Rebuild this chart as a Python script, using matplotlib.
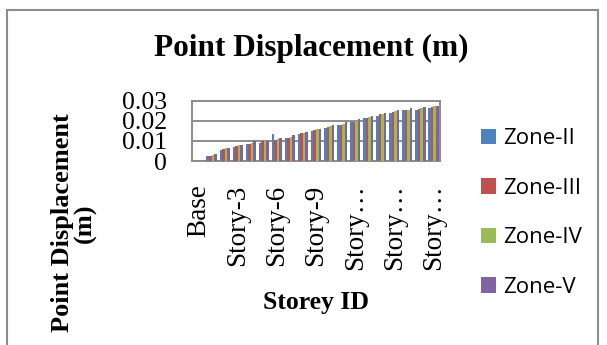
import matplotlib
matplotlib.use("Agg")
import matplotlib.pyplot as plt
import numpy as np
from matplotlib.lines import Line2D

# Storey-wise point displacement (m) for each seismic zone
storeys = ["Base"] + [f"Story-{i}" for i in range(1, 19)]
zone_ii = [0.0, 0.0025, 0.0057, 0.0070, 0.0082, 0.0090, 0.0135, 0.0112, 0.0135,
           0.0148, 0.0165, 0.0178, 0.0195, 0.0212, 0.0225, 0.0238, 0.0252, 0.0252, 0.0263]
zone_iii = [0.0, 0.0025, 0.0060, 0.0073, 0.0085, 0.0097, 0.0102, 0.0115, 0.0137,
            0.0153, 0.0167, 0.0178, 0.0195, 0.0215, 0.0232, 0.0245, 0.0252, 0.0258, 0.0268]
zone_iv = [0.0, 0.0032, 0.0063, 0.0077, 0.0090, 0.0100, 0.0110, 0.0117, 0.0138,
           0.0157, 0.0172, 0.0185, 0.0197, 0.0218, 0.0233, 0.0248, 0.0255, 0.0265, 0.0272]
zone_v = [0.0, 0.0033, 0.0063, 0.0077, 0.0098, 0.0100, 0.0115, 0.0128, 0.0145,
          0.0160, 0.0178, 0.0193, 0.0207, 0.0225, 0.0238, 0.0252, 0.0262, 0.0270, 0.0275]
series_names = ["Zone-II", "Zone-III", "Zone-IV", "Zone-V"]
tick_labels = ["Base", "Story-3", "Story-6", "Story-9", "Story…", "Story…", "Story…"]
y_ticks = [0, 0.01, 0.02, 0.03]
y_tick_labels = ["0", "0.01", "0.02", "0.03"]

colors = ["#4F81BD", "#C0504D", "#9BBB59", "#8064A2"]
grid_gray = "#8C8C8C"
serif = ["Liberation Serif", "DejaVu Serif"]

W, H = 607, 345
fig = plt.figure(figsize=(W / 100, H / 100), dpi=100)
fig.patch.set_facecolor("white")

def fx(px):
    return px / W

def fy(py):
    return 1 - py / H

ax = fig.add_axes([fx(192), fy(161), fx(440) - fx(192), fy(100.5) - fy(161)])

x = np.arange(len(storeys))
bar_w = 0.195
all_series = [zone_ii, zone_iii, zone_iv, zone_v]
for k, (vals, name, c) in enumerate(zip(all_series, series_names, colors)):
    ax.bar(x + (k - 1.5) * bar_w, vals, width=bar_w, color=c, label=name,
           zorder=3, linewidth=0)

ax.set_xlim(-0.5, len(storeys) - 0.5)
ax.set_ylim(0, 0.03)
ax.set_yticks(y_ticks)
ax.set_yticklabels(y_tick_labels, fontfamily=serif, fontsize=18.5)
ax.set_xticks(x[::3])
ax.set_xticklabels(tick_labels, rotation=90, fontfamily=serif, fontsize=19.5,
                   va="top", ha="center")
ax.tick_params(axis="y", length=0, pad=18)
ax.tick_params(axis="x", length=0, pad=17)
ax.grid(axis="y", color=grid_gray, linewidth=1.4, zorder=0)
for s in ax.spines.values():
    s.set_color(grid_gray)
    s.set_linewidth(1.4)

# Titles
fig.text(fx(311), fy(48), "Point Displacement (m)", fontfamily=serif,
         fontweight="bold", fontsize=22.5, ha="center", va="center")
fig.text(fx(74), fy(223), "Point Displacement\n(m)", fontfamily=serif,
         fontweight="bold", fontsize=19, rotation=90, ha="center", va="center",
         multialignment="center", linespacing=1.0)
fig.text(fx(316), fy(302), "Storey ID", fontfamily=serif, fontweight="bold",
         fontsize=18.5, ha="center", va="center")

# Legend on the right
handles, labels = ax.get_legend_handles_labels()
fig.legend(handles, labels, loc="center left",
           bbox_to_anchor=(fx(470), fy(213)), frameon=False,
           prop={"family": ["Open Sans", "DejaVu Sans"], "size": 16},
           handlelength=0.68, handleheight=0.68, handletextpad=0.3,
           labelspacing=1.28, borderpad=0)

# Outer chart border
lc = "#8C8C8C"
fig.add_artist(Line2D([fx(7), fx(7)], [fy(10), 0], color=lc, linewidth=1.5))
fig.add_artist(Line2D([fx(7), fx(598)], [fy(10), fy(10)], color=lc, linewidth=1.5))
fig.add_artist(Line2D([fx(598), fx(598)], [fy(10), 0], color=lc, linewidth=1.5))

fig.savefig("out.png", dpi=100)
